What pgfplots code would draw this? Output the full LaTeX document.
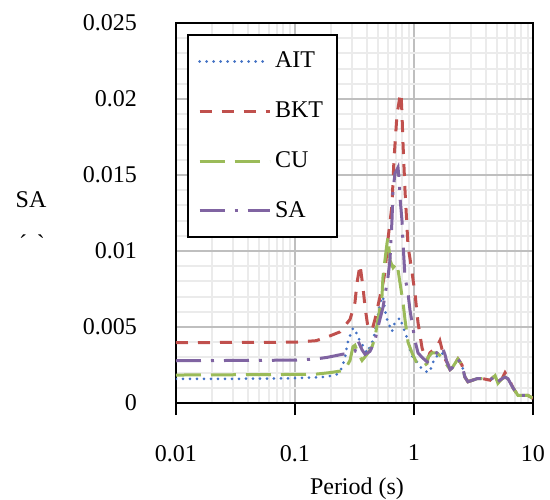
\documentclass[border=0pt]{standalone}
\usepackage{fontspec}
\setmainfont{Liberation Serif}
\usepackage{pgfplots}
\pgfplotsset{compat=1.18}

\definecolor{cAIT}{HTML}{4472C4}
\definecolor{cBKT}{HTML}{C0504D}
\definecolor{cCU}{HTML}{9BBB59}
\definecolor{cSA}{HTML}{8064A2}

\begin{document}
\begin{tikzpicture}
\useasboundingbox (-88pt,-48pt) rectangle (187pt,201.5pt);
\begin{axis}[
    at={(0,0)}, anchor=south west,
    scale only axis,
    width=178.5pt, height=190pt,
    xmode=log,
    xmin=0.01, xmax=10,
    ymin=0, ymax=0.025,
    scaled y ticks=false,
    xtick={0.01,0.1,1,10},
    xticklabels={0.01,0.1,1,10},
    ytick={0,0.005,0.01,0.015,0.02,0.025},
    yticklabels={0,0.005,0.01,0.015,0.02,0.025},
    minor y tick num=4,
    grid=both,
    major grid style={color=black!25, line width=1pt},
    minor grid style={color=black!8, line width=1pt},
    axis line style={black, line width=1pt},
    tick align=outside,
    xtick pos=bottom, ytick pos=left,
    major tick length=6pt, minor tick length=0pt,
    xtick style={black, line width=1pt},
    ytick style={draw=none},
    ticklabel style={font=\fontsize{12}{14}\selectfont},
    yticklabel style={xshift=-10pt},
    xticklabel style={yshift=-11.5pt},
    xlabel={Period (s)},
    xlabel style={font=\fontsize{12}{14}\selectfont, at={(rel axis cs:0.507,0)}, anchor=center, yshift=-43pt},
    legend cell align=left,
    legend style={at={(rel axis cs:0.031,0.971)}, anchor=north west,
        draw=black, line width=1pt, inner xsep=5pt, inner ysep=6.5pt,
        row sep=11.5pt, font=\fontsize{12}{14}\selectfont},
    legend image code/.code={\draw[#1] (0pt,0pt) -- (35pt,0pt);},
    every axis plot/.append style={line width=1.5pt},
]

% AIT
\addplot[cAIT, line cap=round, dash pattern=on 0pt off 3.5pt] coordinates {
(0.01,0.00158) (0.05,0.00160) (0.1,0.00163) (0.15,0.00168) (0.186,0.00173)
(0.225,0.00189) (0.248,0.0023) (0.263,0.0030) (0.279,0.0041) (0.307,0.0049)
(0.319,0.0049) (0.338,0.0043) (0.352,0.0041) (0.403,0.0033) (0.427,0.0037)
(0.452,0.0041) (0.489,0.0053) (0.518,0.0066) (0.538,0.0069) (0.549,0.0070)
(0.570,0.0061) (0.593,0.0055) (0.653,0.0047) (0.692,0.0053) (0.763,0.0056)
(0.809,0.0050) (0.873,0.0043) (0.926,0.0035) (0.962,0.0031) (1.06,0.0027)
(1.12,0.0024) (1.19,0.0022) (1.31,0.0020) (1.36,0.0021) (1.42,0.0025)
(1.50,0.0030) (1.72,0.0033) (1.82,0.0030) (1.89,0.0027) (2.01,0.0022)
(2.09,0.0023) (2.21,0.0026) (2.34,0.0029) (2.53,0.0025) (2.68,0.0017)
(2.84,0.0014) (3.38,0.0016) (3.80,0.0016) (4.35,0.0015) (4.80,0.0018)
(5.08,0.0014) (5.49,0.0016) (5.82,0.0017) (6.16,0.0016) (6.79,0.0010)
(7.48,0.0005) (8.24,0.0005) (9.08,0.0005) (10,0.0003)
};
\addlegendentry{AIT}

% BKT
\addplot[cBKT, dash pattern=on 6pt off 5pt] coordinates {
(0.01,0.00397) (0.1,0.00400) (0.15,0.0041) (0.186,0.00434) (0.239,0.00468)
(0.290,0.0055) (0.319,0.0066) (0.332,0.0079) (0.352,0.0091) (0.373,0.0076)
(0.388,0.0063) (0.410,0.0050) (0.444,0.0048) (0.470,0.0055) (0.549,0.0079)
(0.570,0.0086) (0.605,0.0108) (0.653,0.0130) (0.679,0.0160) (0.720,0.0190)
(0.763,0.0202) (0.778,0.0204) (0.793,0.0190) (0.809,0.0170) (0.840,0.0140)
(0.873,0.0116) (0.891,0.0103) (0.926,0.0095) (0.962,0.0086) (1.02,0.0072)
(1.08,0.0053) (1.17,0.0036) (1.24,0.0030) (1.29,0.0028) (1.36,0.0033)
(1.56,0.0037) (1.65,0.0041) (1.75,0.0033) (1.82,0.0029) (1.89,0.0027)
(2.01,0.0022) (2.09,0.0023) (2.21,0.0026) (2.34,0.0029) (2.53,0.0025)
(2.68,0.0017) (2.84,0.0014) (3.38,0.0016) (3.80,0.0016) (4.35,0.0015)
(4.80,0.0018) (5.08,0.0014) (5.49,0.0016) (5.82,0.0020) (6.16,0.0017)
(6.79,0.0010) (7.48,0.0005) (8.24,0.0005) (9.08,0.0005) (10,0.0003)
};
\addlegendentry{BKT}

% CU
\addplot[cCU, dash pattern=on 12.5pt off 5pt] coordinates {
(0.01,0.00184) (0.1,0.00188) (0.15,0.0019) (0.197,0.0020) (0.239,0.0021)
(0.263,0.0022) (0.290,0.0028) (0.307,0.0037) (0.319,0.0038) (0.338,0.0033)
(0.366,0.0028) (0.403,0.0032) (0.444,0.0037) (0.470,0.0043) (0.498,0.0055)
(0.538,0.0070) (0.549,0.0083) (0.570,0.0094) (0.593,0.0105) (0.605,0.0109)
(0.628,0.0094) (0.667,0.0089) (0.720,0.0092) (0.763,0.0079) (0.809,0.0066)
(0.840,0.0055) (0.891,0.0040) (0.962,0.0033) (1.06,0.0026) (1.19,0.0024)
(1.29,0.0026) (1.31,0.0030) (1.42,0.0033) (1.56,0.0033) (1.72,0.0030)
(1.89,0.0025) (2.01,0.0022) (2.09,0.0023) (2.21,0.0026) (2.34,0.0029)
(2.53,0.0025) (2.68,0.0017) (2.84,0.0014) (3.38,0.0016) (3.80,0.0016)
(4.35,0.0015) (4.80,0.0018) (5.08,0.0013) (5.49,0.0016) (5.82,0.0017)
(6.16,0.0016) (6.79,0.0010) (7.48,0.0005) (8.24,0.0005) (9.08,0.0005)
(10,0.0003)
};
\addlegendentry{CU}

% SA
\addplot[cSA, dash pattern=on 12.5pt off 5pt on 1.5pt off 5pt] coordinates {
(0.01,0.00278) (0.1,0.00282) (0.15,0.0029) (0.186,0.0030) (0.248,0.0032)
(0.290,0.0033) (0.319,0.0034) (0.332,0.0038) (0.338,0.0041) (0.366,0.0035)
(0.388,0.0032) (0.427,0.0034) (0.470,0.0041) (0.498,0.0050) (0.549,0.0063)
(0.605,0.0083) (0.628,0.0094) (0.653,0.0120) (0.667,0.0140) (0.692,0.0151)
(0.734,0.0155) (0.750,0.0147) (0.763,0.0135) (0.793,0.0120) (0.809,0.0105)
(0.840,0.0083) (0.891,0.0072) (0.926,0.0061) (1.02,0.0041) (1.08,0.0033)
(1.17,0.0030) (1.29,0.0027) (1.44,0.0030) (1.59,0.0034) (1.72,0.0037)
(1.82,0.0032) (1.89,0.0027) (2.01,0.0022) (2.09,0.0023) (2.21,0.0026)
(2.34,0.0029) (2.53,0.0025) (2.68,0.0017) (2.84,0.0014) (3.38,0.0016)
(3.80,0.0016) (4.35,0.0015) (4.80,0.0018) (5.08,0.0014) (5.49,0.0016)
(5.82,0.0017) (6.16,0.0016) (6.79,0.0010) (7.48,0.0005) (8.24,0.0005)
(9.08,0.0005) (10,0.0003)
};
\addlegendentry{SA}

\end{axis}
\node[font=\fontsize{12}{14}\selectfont] at (-72.5pt,101.5pt) {SA};
\node[font=\fontsize{12}{14}\selectfont] at (-72pt,80pt) {´\hspace{5pt}ˋ};
\end{tikzpicture}
\end{document}
